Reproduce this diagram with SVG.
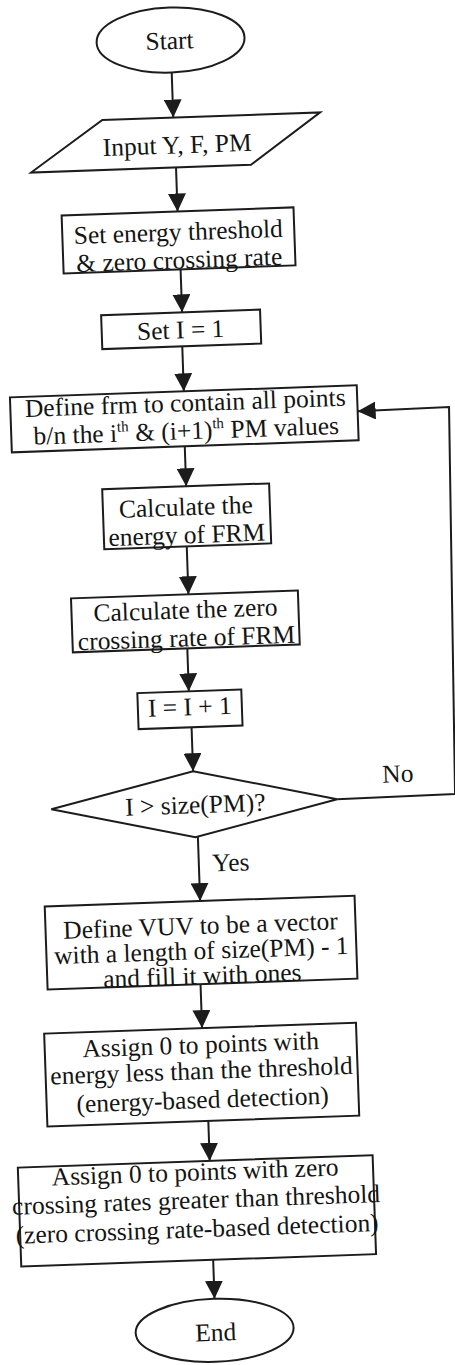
<svg xmlns="http://www.w3.org/2000/svg" width="455" height="1365" viewBox="0 0 455 1365">
  <defs>
    <marker id="arrow" markerUnits="userSpaceOnUse" markerWidth="18" markerHeight="18" refX="18" refY="9" orient="auto">
      <path d="M0,0 L18,9 L0,18 Z" fill="#1c1c1c"/>
    </marker>
  </defs>
  <style>
    .node{fill:#fff;stroke:#1c1c1c;stroke-width:2}
    .lbl{font-family:"Liberation Serif","Times New Roman",serif;font-size:25.5px;fill:#141414;text-anchor:middle}
    .tag{font-family:"Liberation Serif","Times New Roman",serif;font-size:25.5px;fill:#141414}
    .sup{font-size:15px}
    .conn{fill:none;stroke:#1c1c1c;stroke-width:2}
    .flow{marker-end:url(#arrow)}
  </style>
  <rect width="455" height="1365" fill="#fff"/>
  <!-- the whole chart sits slightly tilted on the page -->
  <g transform="rotate(-2 227 682)">
    <g id="start">
      <ellipse class="node" cx="193" cy="38.5" rx="74" ry="32.5"/>
      <text class="lbl" x="192" y="47.5">Start</text>
    </g>
    <g id="input">
      <polygon class="node" points="122,116 340,116 269,166 49,166"/>
      <text class="lbl" x="196" y="152">Input Y, F, PM</text>
    </g>
    <g id="set-threshold">
      <rect class="node" x="78" y="210" width="232" height="58"/>
      <text class="lbl" x="194" y="239">Set energy threshold</text>
      <text class="lbl" x="194" y="267">&amp; zero crossing rate</text>
    </g>
    <g id="set-i">
      <rect class="node" x="114" y="311" width="159" height="34"/>
      <text class="lbl" x="193" y="337">Set I = 1</text>
    </g>
    <g id="define-frm">
      <rect class="node" x="20" y="390" width="347" height="55"/>
      <text class="lbl" x="195" y="410">Define frm to contain all points</text>
      <text class="lbl" x="195" y="438">b/n the i<tspan class="sup" dy="-10">th</tspan><tspan dy="10"> &amp; (i+1)</tspan><tspan class="sup" dy="-10">th</tspan><tspan dy="10"> PM values</tspan></text>
    </g>
    <g id="calc-energy">
      <rect class="node" x="109" y="485" width="167" height="60"/>
      <text class="lbl" x="192" y="514">Calculate the</text>
      <text class="lbl" x="192" y="542">energy of FRM</text>
    </g>
    <g id="calc-zcr">
      <rect class="node" x="74" y="593" width="227" height="54"/>
      <text class="lbl" x="188" y="617">Calculate the zero</text>
      <text class="lbl" x="188" y="645">crossing rate of FRM</text>
    </g>
    <g id="increment">
      <rect class="node" x="137" y="690" width="104" height="36"/>
      <text class="lbl" x="189" y="714">I = I + 1</text>
    </g>
    <g id="check-size">
      <polygon class="node" points="47,803 190,770 333,803 190,836"/>
      <text class="lbl" x="191" y="812">I &gt; size(PM)?</text>
    </g>
    <g id="define-vuv">
      <rect class="node" x="37" y="900" width="310" height="83"/>
      <text class="lbl" x="192" y="933">Define VUV to be a vector</text>
      <text class="lbl" x="192" y="958">with a length of size(PM) - 1</text>
      <text class="lbl" x="192" y="983">and fill it with ones</text>
    </g>
    <g id="energy-detect">
      <rect class="node" x="32" y="1027" width="312" height="93"/>
      <text class="lbl" x="188" y="1052">Assign 0 to points with</text>
      <text class="lbl" x="188" y="1078">energy less than the threshold</text>
      <text class="lbl" x="188" y="1107">(energy-based detection)</text>
    </g>
    <g id="zcr-detect">
      <rect class="node" x="1" y="1160" width="355" height="99"/>
      <text class="lbl" x="178" y="1179">Assign 0 to points with zero</text>
      <text class="lbl" x="178" y="1207">crossing rates greater than threshold</text>
      <text class="lbl" x="178" y="1236">(zero crossing rate-based detection)</text>
    </g>
    <g id="end">
      <ellipse class="node" cx="192" cy="1329.5" rx="79" ry="31.5"/>
      <text class="lbl" x="193" y="1340">End</text>
    </g>
    <g id="connectors">
      <path class="conn flow" d="M193,71 V116"/>
      <path class="conn flow" d="M194,166 V210"/>
      <path class="conn flow" d="M195,268 V311"/>
      <path class="conn flow" d="M194,345 V390"/>
      <path class="conn flow" d="M193,445 V485"/>
      <path class="conn flow" d="M191.5,545 V593"/>
      <path class="conn flow" d="M188.5,647 V690"/>
      <path class="conn flow" d="M190,726 V770"/>
      <path class="conn flow" d="M192.5,836 V900"/>
      <path class="conn flow" d="M190,983 V1027"/>
      <path class="conn flow" d="M193,1120 V1160"/>
      <path class="conn flow" d="M193,1259 V1298"/>
      <path class="conn flow" d="M333,803 L451,802 L458.5,415 L367,416"/>
      <text class="tag" x="206" y="871">Yes</text>
      <text class="tag" x="379" y="788">No</text>
    </g>
  </g>
</svg>
